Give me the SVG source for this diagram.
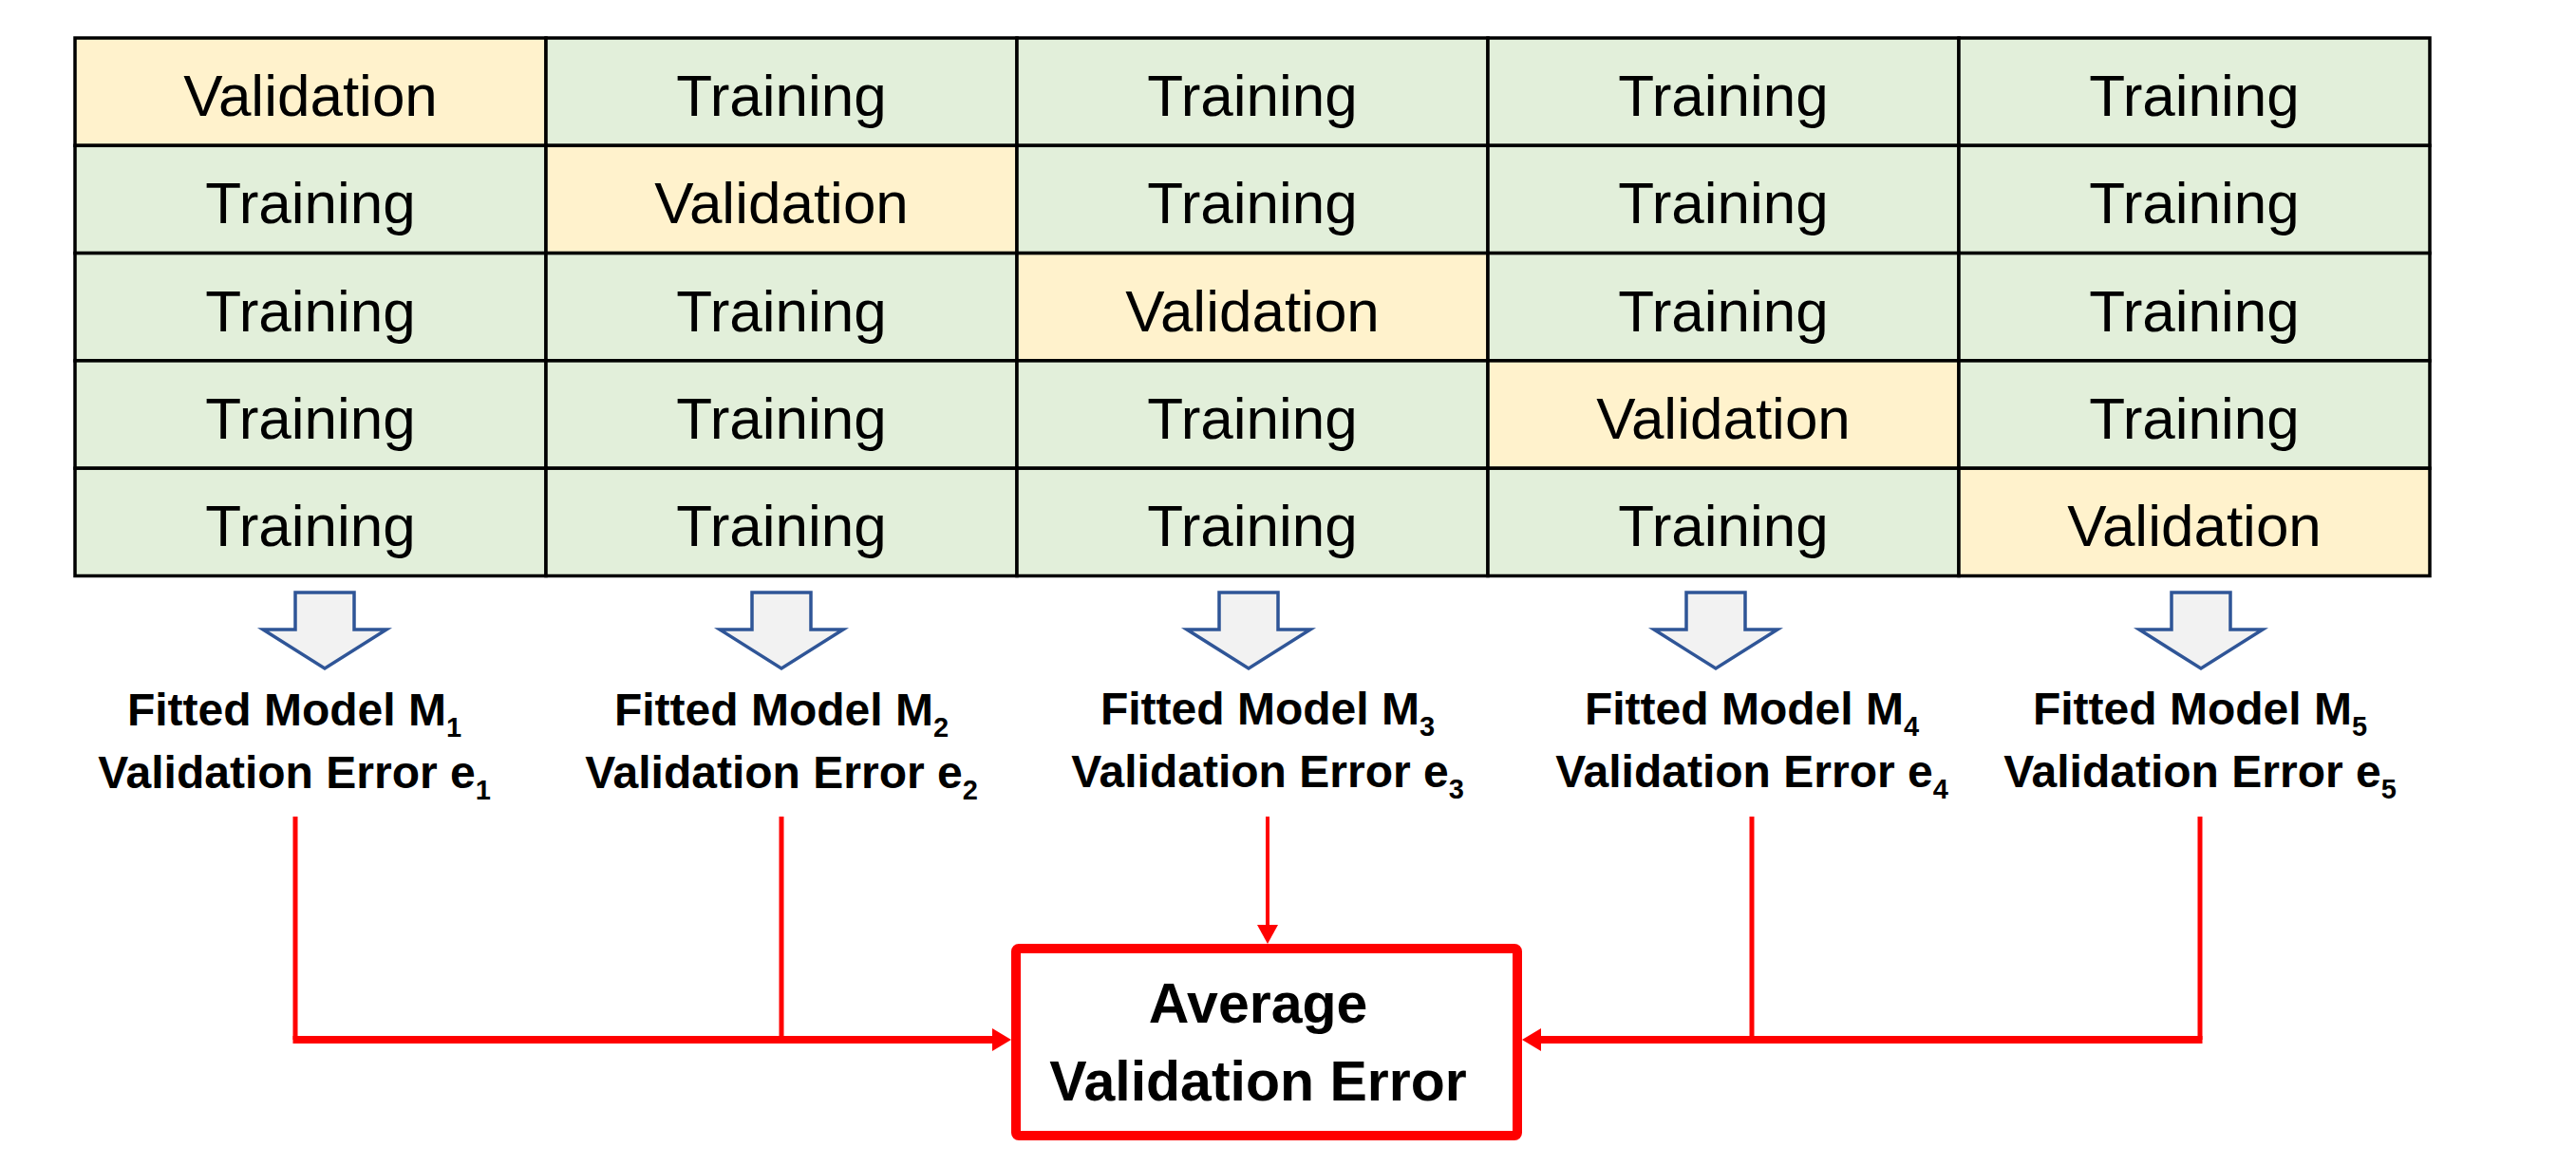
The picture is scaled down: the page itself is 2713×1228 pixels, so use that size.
<svg xmlns="http://www.w3.org/2000/svg" width="2713" height="1228" viewBox="0 0 2713 1228">
  <style>
    .cell { stroke: #000000; stroke-width: 3.5; }
    .tr { fill: #E2EFDA; }
    .va { fill: #FFF2CC; }
    .ct { font-family: "Liberation Sans", Arial, sans-serif; font-size: 62px; fill: #000000; text-anchor: middle; }
    .lbl { font-family: "Liberation Sans", Arial, sans-serif; font-size: 48px; font-weight: bold; fill: #000000; text-anchor: middle; }
    .sub { font-size: 29px; }
    .bt { font-family: "Liberation Sans", Arial, sans-serif; font-size: 59px; font-weight: bold; fill: #000000; text-anchor: middle; }
    .barrow { fill: #F2F2F2; stroke: #2F5597; stroke-width: 3.5; stroke-linejoin: miter; }
    .red { stroke: #FF0000; fill: none; }
  </style>
  <defs>
    <marker id="ahH" markerUnits="userSpaceOnUse" viewBox="0 0 20 24" refX="0" refY="12" markerWidth="20" markerHeight="24" orient="auto">
      <path d="M0,0 L20,12 L0,24 Z" fill="#FF0000"/>
    </marker>
    <marker id="ahV" markerUnits="userSpaceOnUse" viewBox="0 0 20 22" refX="0" refY="11" markerWidth="20" markerHeight="22" orient="auto">
      <path d="M0,0 L20,11 L0,22 Z" fill="#FF0000"/>
    </marker>
    <path id="fatArrow" d="M-31,0 L31,0 L31,39 L65,39 L0,80 L-65,39 L-31,39 Z"/>
  </defs>
  <rect width="2713" height="1228" fill="#FFFFFF"/>

  <g id="table">
    <!-- row 1 -->
    <g id="r1">
      <rect class="cell va" x="79" y="40" width="496" height="113.3"/>
      <rect class="cell tr" x="575" y="40" width="496" height="113.3"/>
      <rect class="cell tr" x="1071" y="40" width="496" height="113.3"/>
      <rect class="cell tr" x="1567" y="40" width="496" height="113.3"/>
      <rect class="cell tr" x="2063" y="40" width="496" height="113.3"/>
      <text class="ct" x="327" y="122">Validation</text>
      <text class="ct" x="823" y="122">Training</text>
      <text class="ct" x="1319" y="122">Training</text>
      <text class="ct" x="1815" y="122">Training</text>
      <text class="ct" x="2311" y="122">Training</text>
    </g>
    <g id="r2">
      <rect class="cell tr" x="79" y="153.3" width="496" height="113.3"/>
      <rect class="cell va" x="575" y="153.3" width="496" height="113.3"/>
      <rect class="cell tr" x="1071" y="153.3" width="496" height="113.3"/>
      <rect class="cell tr" x="1567" y="153.3" width="496" height="113.3"/>
      <rect class="cell tr" x="2063" y="153.3" width="496" height="113.3"/>
      <text class="ct" x="327" y="235.3">Training</text>
      <text class="ct" x="823" y="235.3">Validation</text>
      <text class="ct" x="1319" y="235.3">Training</text>
      <text class="ct" x="1815" y="235.3">Training</text>
      <text class="ct" x="2311" y="235.3">Training</text>
    </g>
    <g id="r3">
      <rect class="cell tr" x="79" y="266.6" width="496" height="113.3"/>
      <rect class="cell tr" x="575" y="266.6" width="496" height="113.3"/>
      <rect class="cell va" x="1071" y="266.6" width="496" height="113.3"/>
      <rect class="cell tr" x="1567" y="266.6" width="496" height="113.3"/>
      <rect class="cell tr" x="2063" y="266.6" width="496" height="113.3"/>
      <text class="ct" x="327" y="348.6">Training</text>
      <text class="ct" x="823" y="348.6">Training</text>
      <text class="ct" x="1319" y="348.6">Validation</text>
      <text class="ct" x="1815" y="348.6">Training</text>
      <text class="ct" x="2311" y="348.6">Training</text>
    </g>
    <g id="r4">
      <rect class="cell tr" x="79" y="379.9" width="496" height="113.3"/>
      <rect class="cell tr" x="575" y="379.9" width="496" height="113.3"/>
      <rect class="cell tr" x="1071" y="379.9" width="496" height="113.3"/>
      <rect class="cell va" x="1567" y="379.9" width="496" height="113.3"/>
      <rect class="cell tr" x="2063" y="379.9" width="496" height="113.3"/>
      <text class="ct" x="327" y="461.9">Training</text>
      <text class="ct" x="823" y="461.9">Training</text>
      <text class="ct" x="1319" y="461.9">Training</text>
      <text class="ct" x="1815" y="461.9">Validation</text>
      <text class="ct" x="2311" y="461.9">Training</text>
    </g>
    <g id="r5">
      <rect class="cell tr" x="79" y="493.2" width="496" height="113.3"/>
      <rect class="cell tr" x="575" y="493.2" width="496" height="113.3"/>
      <rect class="cell tr" x="1071" y="493.2" width="496" height="113.3"/>
      <rect class="cell tr" x="1567" y="493.2" width="496" height="113.3"/>
      <rect class="cell va" x="2063" y="493.2" width="496" height="113.3"/>
      <text class="ct" x="327" y="575.2">Training</text>
      <text class="ct" x="823" y="575.2">Training</text>
      <text class="ct" x="1319" y="575.2">Training</text>
      <text class="ct" x="1815" y="575.2">Training</text>
      <text class="ct" x="2311" y="575.2">Validation</text>
    </g>
  </g>

  <g id="arrows">
    <use href="#fatArrow" class="barrow" x="342" y="624"/>
    <use href="#fatArrow" class="barrow" x="823" y="624"/>
    <use href="#fatArrow" class="barrow" x="1315" y="624"/>
    <use href="#fatArrow" class="barrow" x="1807" y="624"/>
    <use href="#fatArrow" class="barrow" x="2318" y="624"/>
  </g>

  <g id="model1">
    <text class="lbl" x="310" y="764">Fitted Model M<tspan class="sub" dy="12">1</tspan></text>
    <text class="lbl" x="310" y="830">Validation Error e<tspan class="sub" dy="12">1</tspan></text>
  </g>
  <g id="model2">
    <text class="lbl" x="823" y="764">Fitted Model M<tspan class="sub" dy="12">2</tspan></text>
    <text class="lbl" x="823" y="830">Validation Error e<tspan class="sub" dy="12">2</tspan></text>
  </g>
  <g id="model3">
    <text class="lbl" x="1335" y="763">Fitted Model M<tspan class="sub" dy="12">3</tspan></text>
    <text class="lbl" x="1335" y="829">Validation Error e<tspan class="sub" dy="12">3</tspan></text>
  </g>
  <g id="model4">
    <text class="lbl" x="1845" y="763">Fitted Model M<tspan class="sub" dy="12">4</tspan></text>
    <text class="lbl" x="1845" y="829">Validation Error e<tspan class="sub" dy="12">4</tspan></text>
  </g>
  <g id="model5">
    <text class="lbl" x="2317" y="763">Fitted Model M<tspan class="sub" dy="12">5</tspan></text>
    <text class="lbl" x="2317" y="829">Validation Error e<tspan class="sub" dy="12">5</tspan></text>
  </g>

  <g id="connectors">
    <line class="red" x1="311" y1="860" x2="311" y2="1095" stroke-width="5"/>
    <line class="red" x1="823" y1="860" x2="823" y2="1095" stroke-width="5"/>
    <line class="red" x1="1845" y1="860" x2="1845" y2="1095" stroke-width="5"/>
    <line class="red" x1="2317" y1="860" x2="2317" y2="1095" stroke-width="5"/>
    <line class="red" x1="308.5" y1="1095" x2="1045" y2="1095" stroke-width="8" marker-end="url(#ahH)"/>
    <line class="red" x1="2319.5" y1="1095" x2="1623" y2="1095" stroke-width="8" marker-end="url(#ahH)"/>
    <line class="red" x1="1335" y1="860" x2="1335" y2="974" stroke-width="4" marker-end="url(#ahV)"/>
  </g>

  <g id="average">
    <rect x="1070" y="999" width="528" height="197" rx="3" fill="#FFFFFF" stroke="#FF0000" stroke-width="10"/>
    <text class="bt" x="1325" y="1077">Average</text>
    <text class="bt" x="1325" y="1159">Validation Error</text>
  </g>
</svg>
